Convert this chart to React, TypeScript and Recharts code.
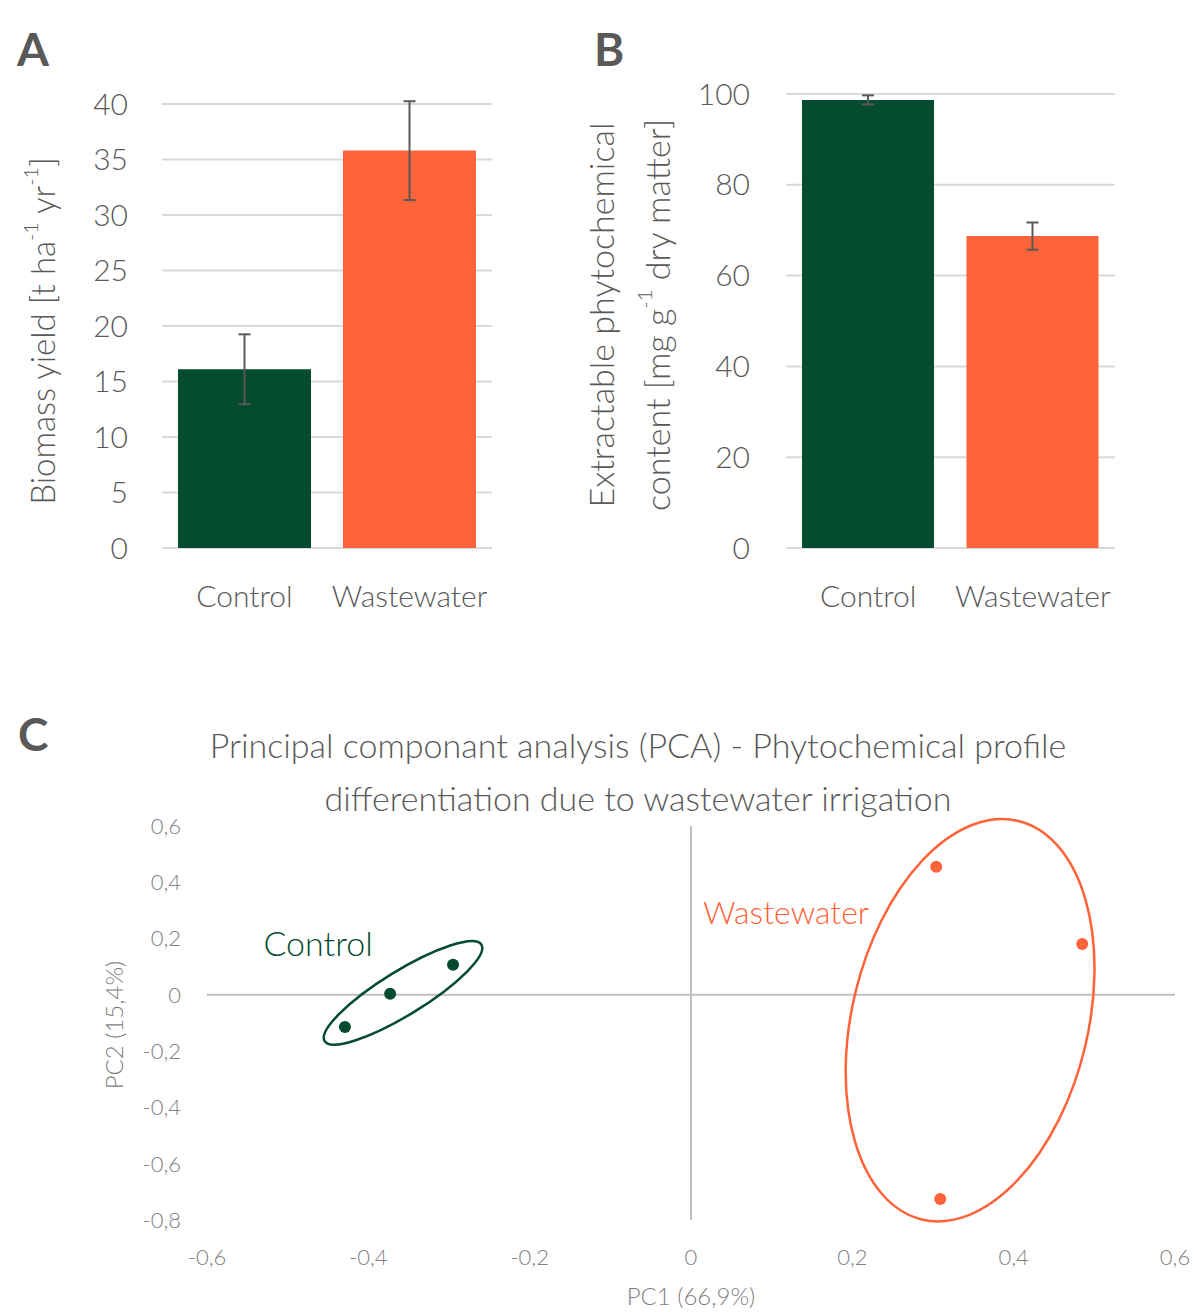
import React from 'react';
import {
  BarChart, Bar, XAxis, YAxis, CartesianGrid, ErrorBar, Cell,
  ScatterChart, Scatter, ReferenceLine, ReferenceDot,
} from 'recharts';

const GREEN = '#044b30';
const ORANGE = '#ff6339';
const TEXT = '#595959';
const LIGHT_TEXT = '#7f7f7f';
const GRID = '#d9d9d9';
const AXIS = '#bfbfbf';
const FONT = 'Lato, "Open Sans", sans-serif';

// panel A + B
const categories = ['Control', 'Wastewater'];
const biomassYield = [16.1, 35.8];
const biomassErr = [3.15, 4.45];
const phytoContent = [98.7, 68.7];
const phytoErr = [1.0, 3.0];
const biomassTicks = [0, 5, 10, 15, 20, 25, 30, 35, 40];
const phytoTicks = [0, 20, 40, 60, 80, 100];

// panel C
const controlPC1 = [-0.429, -0.373, -0.295];
const controlPC2 = [-0.114, 0.004, 0.107];
const wastePC1 = [0.304, 0.485, 0.309];
const wastePC2 = [0.455, 0.181, -0.725];
const pcaXTicks = [-0.6, -0.4, -0.2, 0, 0.2, 0.4, 0.6];
const pcaYTicks = [-0.8, -0.6, -0.4, -0.2, 0, 0.2, 0.4, 0.6];

const controlEllipse = { x: -0.357, y: 0.007 };
const wasteEllipse = { x: 0.346, y: -0.09 };
const controlLabel = { x: -0.53, y: 0.185 };
const wasteLabel = { x: 0.015, y: 0.295 };

const barColors = [GREEN, ORANGE];

const biomassData = categories.map((name, i) => ({ name, value: biomassYield[i], err: biomassErr[i] }));
const phytoData = categories.map((name, i) => ({ name, value: phytoContent[i], err: phytoErr[i] }));
const controlPoints = controlPC1.map((x, i) => ({ x, y: controlPC2[i] }));
const wastePoints = wastePC1.map((x, i) => ({ x, y: wastePC2[i] }));

const fmtComma = (v: number) => (Math.abs(v) < 1e-9 ? '0' : v.toFixed(1).replace('.', ','));

const sup = (s: string) => (
  <tspan baselineShift="super" fontSize="0.6em">{s}</tspan>
);

const PanelLetter = ({ ch, left, top }: { ch: string; left: number; top: number }) => (
  <div style={{ position: 'absolute', left, top, fontSize: 46, fontWeight: 700, color: TEXT, lineHeight: '46px', fontFamily: FONT }}>
    {ch}
  </div>
);

const VTitle = ({ x, y, size, color, children }: any) => (
  <text x={x} y={y} transform={`rotate(-90 ${x} ${y})`} textAnchor="middle" dominantBaseline="central"
    fill={color} fontSize={size} fontFamily={FONT} fontWeight={300}>
    {children}
  </text>
);

export default function App() {
  const tickA = { fill: TEXT, fontSize: 30, fontFamily: FONT, fontWeight: 300 };
  const tickC = { fill: LIGHT_TEXT, fontSize: 22, fontFamily: FONT, fontWeight: 300 };
  return (
    <div style={{ position: 'absolute', left: 0, top: 0, width: 1195, height: 1312, background: '#fff', fontFamily: FONT, overflow: 'hidden' }}>
      <PanelLetter ch="A" left={17} top={26} />
      <PanelLetter ch="B" left={594} top={26} />
      <PanelLetter ch="C" left={18} top={711} />

      {/* A: biomass yield */}
      <div style={{ position: 'absolute', left: 0, top: 0 }}>
        <BarChart width={520} height={640} data={biomassData} margin={{ top: 104, right: 28, left: 100, bottom: 32 }}>
          <CartesianGrid vertical={false} stroke={GRID} strokeWidth={2} />
          <XAxis dataKey="name" axisLine={false} tickLine={false} height={60} tickMargin={32} tick={tickA} />
          <YAxis
            width={62}
            domain={[0, 40]}
            allowDataOverflow
            ticks={biomassTicks}
            axisLine={false}
            tickLine={false}
            tickMargin={28}
            tick={tickA}
          />
          <Bar dataKey="value" barSize={133} isAnimationActive={false}>
            {biomassData.map((d, i) => <Cell key={d.name} fill={barColors[i]} />)}
            <ErrorBar dataKey="err" width={6} stroke={TEXT} strokeWidth={2} />
          </Bar>
        </BarChart>
      </div>

      {/* B: phytochemical content */}
      <div style={{ position: 'absolute', left: 560, top: 0 }}>
        <BarChart width={580} height={640} data={phytoData} margin={{ top: 94, right: 25, left: 146, bottom: 32 }}>
          <CartesianGrid vertical={false} stroke={GRID} strokeWidth={2} />
          <XAxis dataKey="name" axisLine={false} tickLine={false} height={60} tickMargin={32} tick={tickA} />
          <YAxis
            width={80}
            domain={[0, 100]}
            allowDataOverflow
            ticks={phytoTicks}
            axisLine={false}
            tickLine={false}
            tickMargin={30}
            tick={tickA}
          />
          <Bar dataKey="value" barSize={132} isAnimationActive={false}>
            {phytoData.map((d, i) => <Cell key={d.name} fill={barColors[i]} />)}
            <ErrorBar dataKey="err" width={6} stroke={TEXT} strokeWidth={2} />
          </Bar>
        </BarChart>
      </div>

      {/* C: PCA */}
      <div style={{ position: 'absolute', left: 138, top: 718, width: 1000, textAlign: 'center', fontSize: 34, lineHeight: '53px', color: TEXT, fontWeight: 300 }}>
        Principal componant analysis (PCA) - Phytochemical profile<br />
        differentiation due to wastewater irrigation
      </div>
      <div style={{ position: 'absolute', left: 0, top: 690 }}>
        <ScatterChart width={1195} height={622} margin={{ top: 136, right: 20, left: 147, bottom: 32 }}>
          <XAxis
            type="number"
            dataKey="x"
            domain={[-0.6, 0.6]}
            ticks={pcaXTicks}
            tickFormatter={fmtComma}
            axisLine={false}
            tickLine={false}
            height={60}
            tickMargin={23}
            tick={tickC}
          />
          <YAxis
            type="number"
            dataKey="y"
            domain={[-0.8, 0.6]}
            ticks={pcaYTicks}
            tickFormatter={fmtComma}
            axisLine={false}
            tickLine={false}
            width={60}
            tickMargin={20}
            tick={tickC}
          />
          <ReferenceLine x={0} stroke={AXIS} strokeWidth={2} />
          <ReferenceLine y={0} stroke={AXIS} strokeWidth={2} />
          <ReferenceDot
            x={controlEllipse.x}
            y={controlEllipse.y}
            r={1}
            shape={(p: any) => (
              <ellipse cx={p.cx} cy={p.cy} rx={92} ry={22} transform={`rotate(-31.6 ${p.cx} ${p.cy})`}
                fill="none" stroke={GREEN} strokeWidth={2.5} />
            )}
          />
          <ReferenceDot
            x={wasteEllipse.x}
            y={wasteEllipse.y}
            r={1}
            shape={(p: any) => (
              <ellipse cx={p.cx} cy={p.cy} rx={118} ry={205} transform={`rotate(13.6 ${p.cx} ${p.cy})`}
                fill="none" stroke={ORANGE} strokeWidth={2.5} />
            )}
          />
          <ReferenceDot
            x={controlLabel.x}
            y={controlLabel.y}
            r={1}
            shape={(p: any) => (
              <text x={p.cx} y={p.cy} dominantBaseline="central" fill={GREEN} fontSize={34} fontFamily={FONT} fontWeight={300}>Control</text>
            )}
          />
          <ReferenceDot
            x={wasteLabel.x}
            y={wasteLabel.y}
            r={1}
            shape={(p: any) => (
              <text x={p.cx} y={p.cy} dominantBaseline="central" fill={ORANGE} fontSize={32} fontFamily={FONT} fontWeight={300}>Wastewater</text>
            )}
          />
          <Scatter data={controlPoints} isAnimationActive={false}
            shape={(p: any) => <circle cx={p.cx} cy={p.cy} r={6} fill={GREEN} />} />
          <Scatter data={wastePoints} isAnimationActive={false}
            shape={(p: any) => <circle cx={p.cx} cy={p.cy} r={6} fill={ORANGE} />} />
        </ScatterChart>
      </div>

      {/* axis titles */}
      <svg width={1195} height={1312} style={{ position: 'absolute', left: 0, top: 0, pointerEvents: 'none' }}>
        <VTitle x={42} y={331} size={33} color={TEXT}>
          Biomass yield [t ha{sup('-1')} yr{sup('-1')}]
        </VTitle>
        <VTitle x={600} y={315} size={34} color={TEXT}>Extractable phytochemical</VTitle>
        <VTitle x={656} y={315} size={34} color={TEXT}>
          content [mg g{sup('-1')} dry matter]
        </VTitle>
        <VTitle x={113} y={1025} size={24} color={LIGHT_TEXT}>PC2 (15,4%)</VTitle>
        <text x={691} y={1295} textAnchor="middle" dominantBaseline="central" fill={LIGHT_TEXT} fontSize={24} fontFamily={FONT} fontWeight={300}>
          PC1 (66,9%)
        </text>
      </svg>
    </div>
  );
}
